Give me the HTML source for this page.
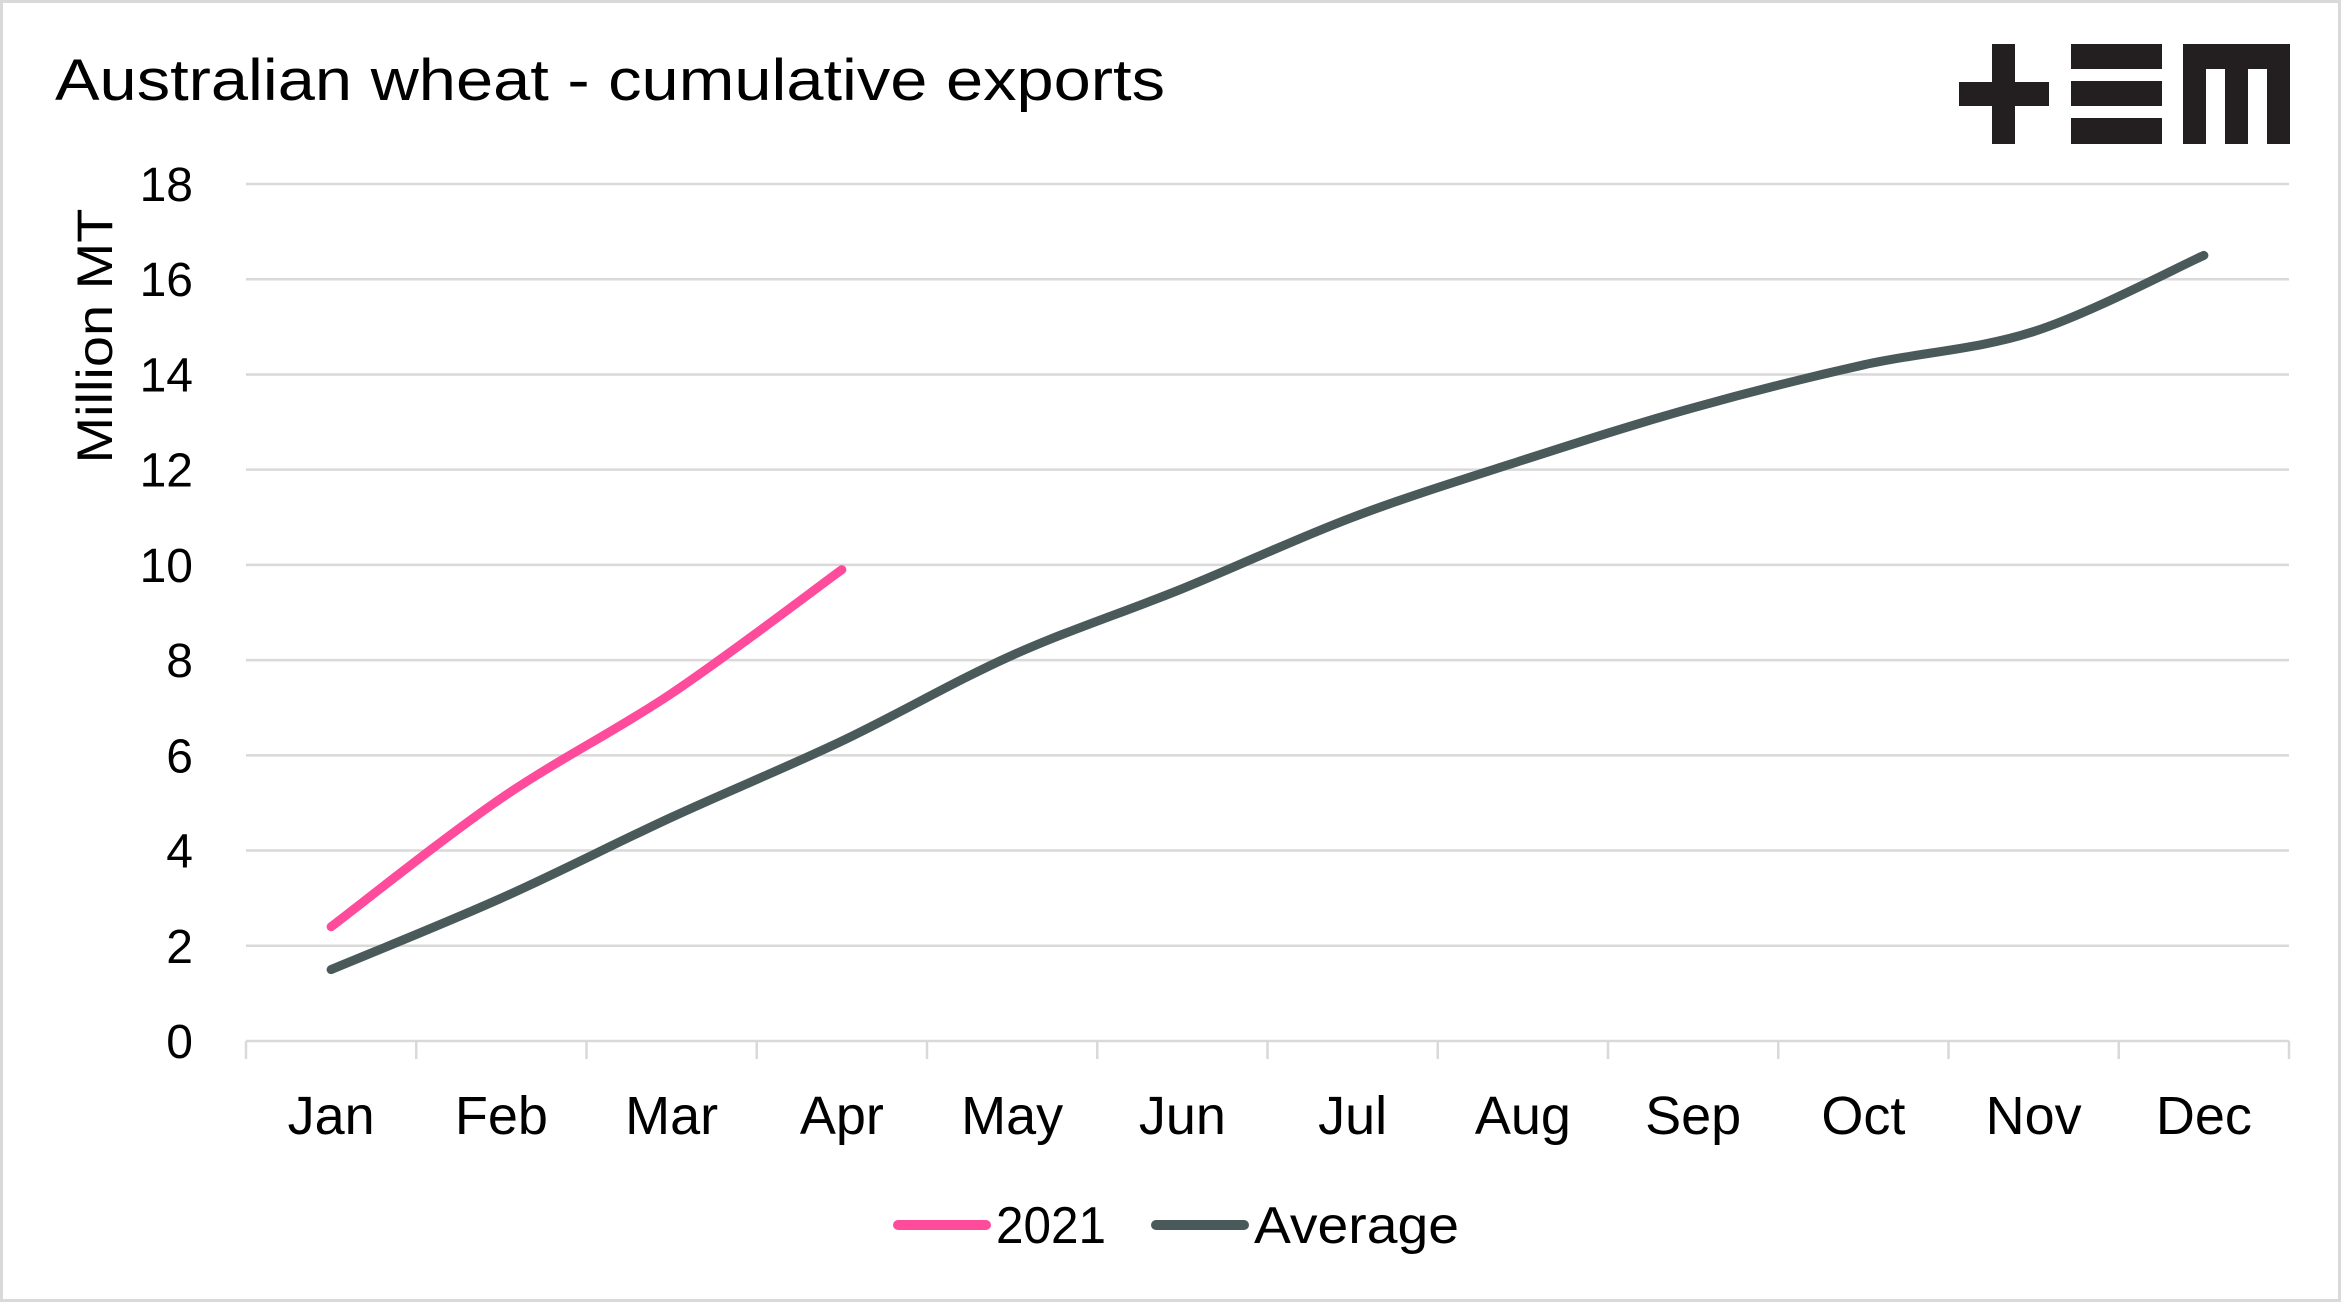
<!DOCTYPE html>
<html><head><meta charset="utf-8"><style>
html,body{margin:0;padding:0;background:#fff}
svg{display:block}
text{font-family:"Liberation Sans",sans-serif;fill:#000}
</style></head><body>
<svg id="chart" width="2341" height="1302" viewBox="0 0 2341 1302" xmlns="http://www.w3.org/2000/svg">
<rect x="1.5" y="1.5" width="2338" height="1299" fill="#fff" stroke="#d9d9d9" stroke-width="3"/>
<text x="55" y="100" font-size="58" textLength="1110" lengthAdjust="spacingAndGlyphs">Australian wheat - cumulative exports</text>
<g fill="#231f20">
<rect x="1959" y="82" width="90" height="24"/><rect x="1992" y="44" width="23" height="100"/>
<rect x="2071" y="44" width="91" height="25"/><rect x="2071" y="81" width="91" height="25"/><rect x="2071" y="118" width="91" height="26"/>
<rect x="2183" y="44" width="107" height="25"/><rect x="2183" y="44" width="23" height="100"/><rect x="2225" y="44" width="23" height="100"/><rect x="2267" y="44" width="23" height="100"/>
</g>
<text transform="translate(112,336) rotate(-90)" text-anchor="middle" font-size="50" textLength="255" lengthAdjust="spacingAndGlyphs">Million MT</text>
<g id="grid"></g><g id="axes"></g><g id="series"></g>
<g>
<line x1="898" y1="1225" x2="986" y2="1225" stroke="#ff4b9b" stroke-width="10" stroke-linecap="round"/>
<text x="996" y="1243" font-size="52" textLength="110" lengthAdjust="spacingAndGlyphs">2021</text>
<line x1="1156" y1="1225" x2="1244" y2="1225" stroke="#4a5a5a" stroke-width="10" stroke-linecap="round"/>
<text x="1254" y="1243" font-size="52" textLength="205" lengthAdjust="spacingAndGlyphs">Average</text>
</g>
</svg>
<script>
const months=["Jan","Feb","Mar","Apr","May","Jun","Jul","Aug","Sep","Oct","Nov","Dec"];
const yTicks=[0,2,4,6,8,10,12,14,16,18];
const avgValues=[1.5,3.0,4.7,6.3,8.1,9.5,11.0,12.2,13.3,14.2,14.9,16.5];
const y2021Values=[2.4,5.1,7.3,9.9];
const NS="http://www.w3.org/2000/svg";
const L=246,R=2289,T=184,B=1041,YMAX=18;
const bw=(R-L)/months.length;
const xs=i=>L+bw*(i+0.5);
const ys=v=>B-(v/YMAX)*(B-T);
function mk(tag,attrs,parent){const e=document.createElementNS(NS,tag);for(const k in attrs)e.setAttribute(k,attrs[k]);parent.appendChild(e);return e;}
const grid=document.getElementById('grid'),axes=document.getElementById('axes'),series=document.getElementById('series');
yTicks.forEach(v=>{
 if(v>0){const g=mk('line',{x1:L,x2:R,y1:ys(v),y2:ys(v),stroke:'#d9d9d9','stroke-width':2.5},grid);
 
 }
 const t=mk('text',{x:193,y:ys(v)+17,'text-anchor':'end','font-size':48},axes);t.textContent=v;
 
 
});
const ax=mk('line',{x1:L,x2:R,y1:B,y2:B,stroke:'#d9d9d9','stroke-width':2.5},axes);


for(let i=0;i<=months.length;i++){const tk=mk('line',{x1:L+bw*i,x2:L+bw*i,y1:B,y2:B+18,stroke:'#d9d9d9','stroke-width':2.5},axes);
 
 }
months.forEach((m,i)=>{const t=mk('text',{x:xs(i),y:1134,'text-anchor':'middle','font-size':54},axes);t.textContent=m;
 
 });
function smooth(vals){const p=vals.map((v,i)=>[xs(i),ys(v)]);let d='M'+p[0][0]+','+p[0][1];
 for(let i=0;i<p.length-1;i++){const p0=p[i-1]||p[i],p1=p[i],p2=p[i+1],p3=p[i+2]||p2;
 const c1=[p1[0]+(p2[0]-p0[0])/6,p1[1]+(p2[1]-p0[1])/6],c2=[p2[0]-(p3[0]-p1[0])/6,p2[1]-(p3[1]-p1[1])/6];
 d+=' C'+c1+' '+c2+' '+p2;}return d;}
const a=mk('path',{d:smooth(avgValues),fill:'none',stroke:'#4a5a5a','stroke-width':9,'stroke-linecap':'round'},series);


const p=mk('path',{d:smooth(y2021Values),fill:'none',stroke:'#ff4b9b','stroke-width':9,'stroke-linecap':'round'},series);


</script>
</body></html>
